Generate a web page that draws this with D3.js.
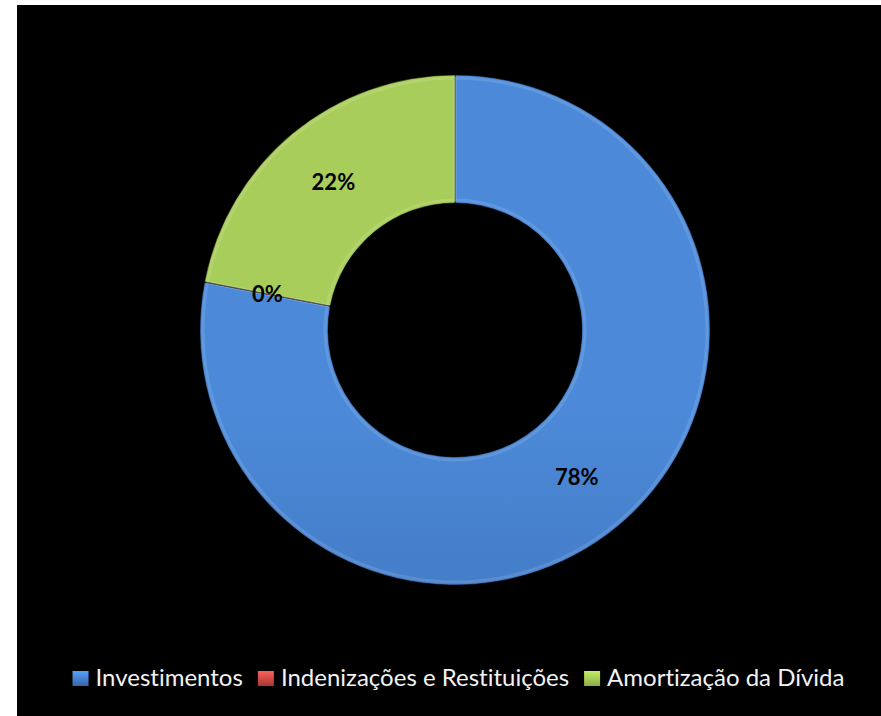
<!DOCTYPE html>
<html lang="pt">
<head>
<meta charset="UTF-8">
<title>Despesas de capital</title>
<script src="https://d3js.org/d3.v7.min.js"></script>
<style>
html, body { margin: 0; padding: 0; background: white; }
.label { font-family: 'Lato', sans-serif; font-weight: bold; font-size: 22px; fill: #000; }
.legend text { font-family: 'Lato', sans-serif; font-size: 24px; fill: #f2f2f2; font-variant-ligatures: none; }
</style>
</head>
<body>
<div id="chart"></div>
<script>

// --------------------------------------
// Data
// --------------------------------------
const categories = ["Investimentos", "Indenizações e Restituições", "Amortização da Dívida"];
const values = [78.0, 0.03, 21.97];
const colorsTop = ["#4c8ad9", "#d9534f", "#a9cd5a"];
const colorsBottom = ["#3766a9", "#a83532", "#8cae47"];

// --------------------------------------
// Size
// --------------------------------------
const totalWidth = 881, totalHeight = 716;
const cx = 455, cy = 330;
const outerR = 255, innerR = 127;

const svg = d3.select("#chart").append("svg")
  .attr("width", totalWidth)
  .attr("height", totalHeight);

svg.append("rect")
  .attr("x", 17).attr("y", 5)
  .attr("width", totalWidth - 17).attr("height", totalHeight - 5)
  .attr("fill", "#000");

const defs = svg.append("defs");
categories.forEach((c, i) => {
  const g = defs.append("linearGradient")
    .attr("id", "grad" + i)
    .attr("gradientUnits", "userSpaceOnUse")
    .attr("x1", 0).attr("y1", cy - outerR)
    .attr("x2", 0).attr("y2", cy + outerR);
  g.append("stop").attr("offset", "0%").attr("stop-color", colorsTop[i]);
  g.append("stop").attr("offset", "100%").attr("stop-color", colorsBottom[i]);

  const lg = defs.append("linearGradient")
    .attr("id", "lgrad" + i)
    .attr("x1", 0).attr("y1", 0).attr("x2", 0).attr("y2", 1);
  lg.append("stop").attr("offset", "0%").attr("stop-color", d3.color(colorsTop[i]).brighter(0.4));
  lg.append("stop").attr("offset", "100%").attr("stop-color", colorsBottom[i]);
});

// --------------------------------------
// Donut
// --------------------------------------
const data = categories.map((c, i) => ({ name: c, value: values[i], i: i }));
const pie = d3.pie().value(d => d.value).sort(null);
const arcs = pie(data);
const total = d3.sum(values);

const arc = d3.arc().innerRadius(innerR).outerRadius(outerR);
const bevel = d3.arc().innerRadius(innerR + 3).outerRadius(outerR - 3);
const labelArc = d3.arc().innerRadius(191).outerRadius(191);

const g = svg.append("g").attr("transform", `translate(${cx},${cy})`);

g.selectAll(".slice")
  .data(arcs)
  .join("path")
  .attr("class", "slice")
  .attr("d", arc)
  .attr("fill", d => `url(#grad${d.data.i})`)
  .attr("stroke", "rgba(0,0,0,0.55)")
  .attr("stroke-width", 1);

// soft bevel highlight
g.selectAll(".bevel")
  .data(arcs.filter(d => d.endAngle - d.startAngle > 0.05))
  .join("path")
  .attr("class", "bevel")
  .attr("d", bevel)
  .attr("fill", "none")
  .attr("stroke", "rgba(255,255,255,0.12)")
  .attr("stroke-width", 3);

g.selectAll(".label")
  .data(arcs)
  .join("text")
  .attr("class", "label")
  .attr("transform", d => {
    const [x, y] = labelArc.centroid(d);
    return `translate(${x},${y})`;
  })
  .attr("text-anchor", "middle")
  .attr("dy", "0.35em")
  .text(d => Math.round(d.data.value / total * 100) + "%");

// --------------------------------------
// Legend
// --------------------------------------
const legend = svg.append("g").attr("class", "legend");
const items = legend.selectAll(".item")
  .data(data)
  .join("g")
  .attr("class", "item");

items.append("rect")
  .attr("x", 0).attr("y", -15)
  .attr("width", 16).attr("height", 15)
  .attr("fill", d => `url(#lgrad${d.i})`);

items.append("text")
  .attr("x", 23).attr("y", 0)
  .text(d => d.name);

let xPos = 0;
const offsets = [];
items.each(function () {
  offsets.push(xPos);
  xPos += this.getBBox().width + 15;
});
const legendWidth = xPos - 15;
const legendX = 458.5 - legendWidth / 2;
items.attr("transform", (d, i) => `translate(${legendX + offsets[i]},686)`);

</script>
</body>
</html>
